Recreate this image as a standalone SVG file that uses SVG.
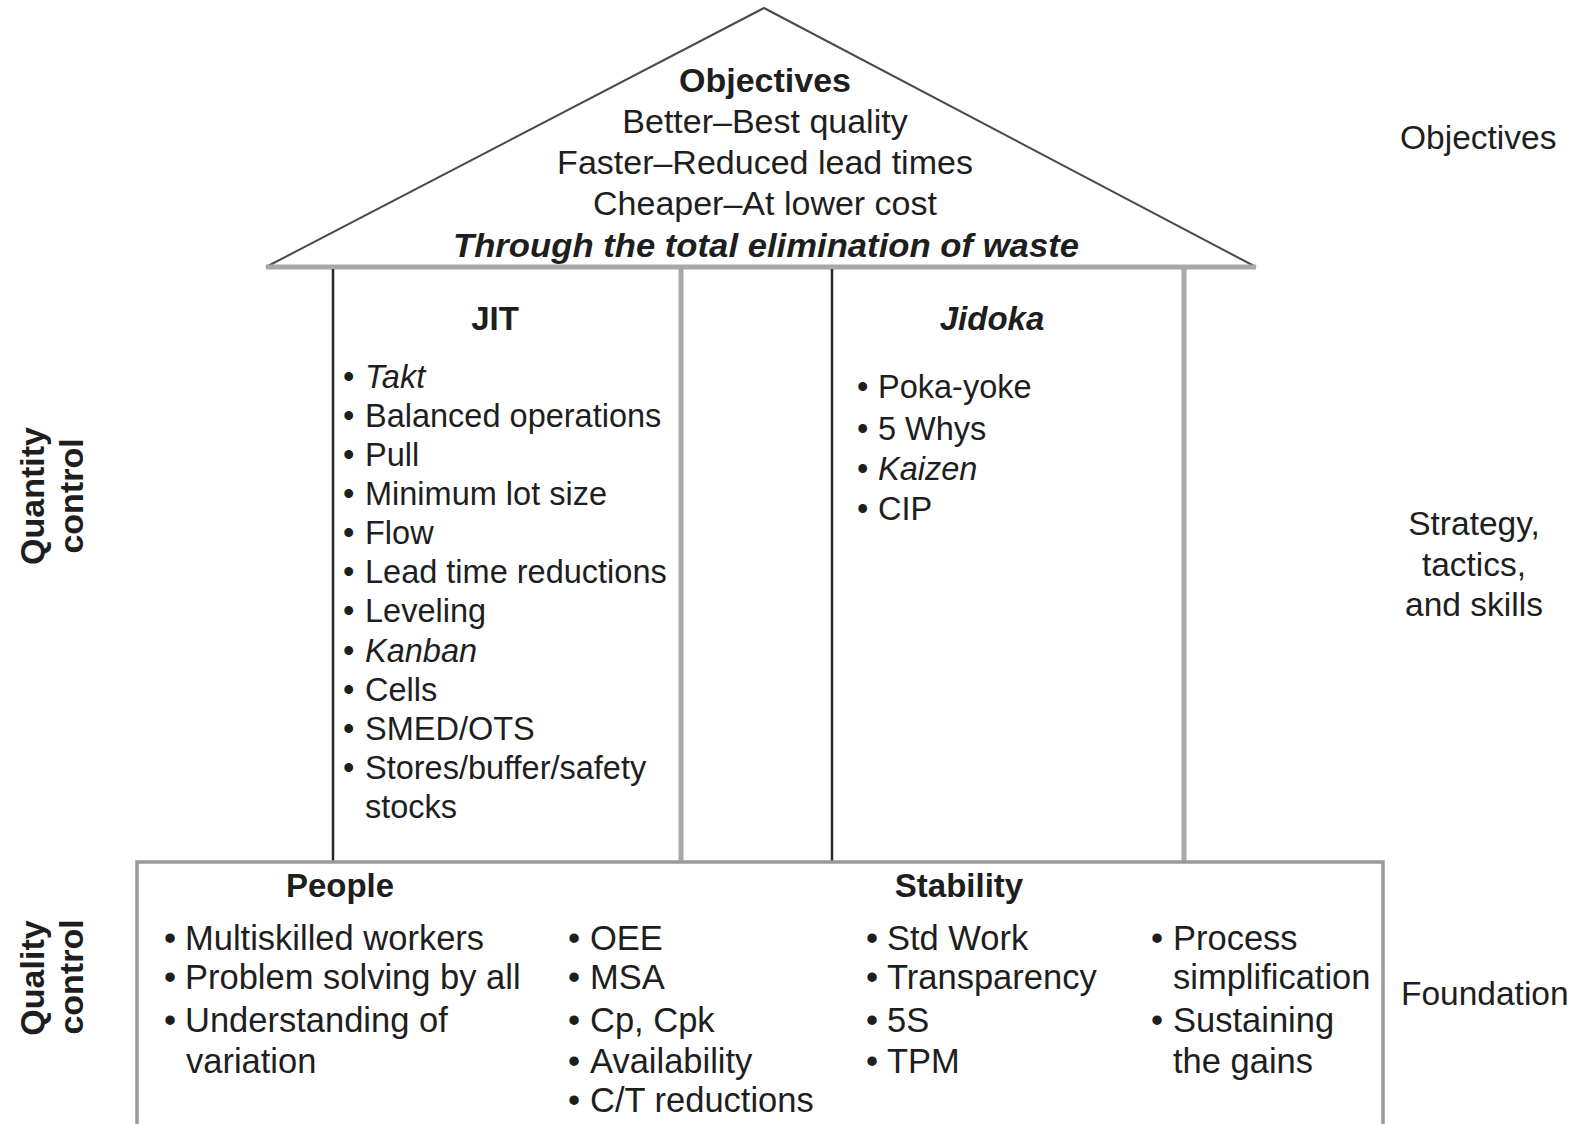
<svg xmlns="http://www.w3.org/2000/svg" width="1578" height="1124" viewBox="0 0 1578 1124">
  <style>
    text { font-family: "Liberation Sans", Arial, sans-serif; fill: #1e1e1e; }
    .roof { font-size: 34px; text-anchor: middle; }
    .head { font-size: 33px; font-weight: bold; text-anchor: middle; }
    .item { font-size: 32.5px; }
    .base { font-size: 34.5px; }
    .side { font-size: 33.5px; }
    .vert { font-size: 34px; font-weight: bold; text-anchor: middle; }
    .it { font-style: italic; }
    .line-dark { stroke: #2a2a2a; stroke-width: 2.5; fill: none; }
    .line-grey { stroke: #a8a8a8; stroke-width: 5; fill: none; }
    .roof-edge { stroke: #4a4a4a; stroke-width: 2; fill: none; }
  </style>

  <rect width="1578" height="1124" fill="#ffffff"/>

  <!-- house outline: roof, pillars and foundation frame -->
  <g id="connectors">
    <polyline class="roof-edge" points="266,267 764,8 1256,267"/>
    <line class="line-grey" x1="266" y1="267" x2="1256" y2="267"/>
    <line class="line-dark" x1="333" y1="269" x2="333" y2="862"/>
    <line class="line-grey" x1="681" y1="269" x2="681" y2="862"/>
    <line class="line-dark" x1="832" y1="269" x2="832" y2="862"/>
    <line class="line-grey" x1="1184" y1="269" x2="1184" y2="862"/>
    <polyline fill="none" stroke="#9a9a9a" stroke-width="3.5" points="137,1124 137,862 1383,862 1383,1124"/>
  </g>

  <!-- roof: objectives -->
  <g id="objectives">
    <text class="roof" x="765" y="92" font-weight="bold">Objectives</text>
    <text class="roof" x="765" y="133">Better–Best quality</text>
    <text class="roof" x="765" y="174">Faster–Reduced lead times</text>
    <text class="roof" x="765" y="215">Cheaper–At lower cost</text>
    <text class="roof" x="766" y="257" font-weight="bold" font-style="italic" textLength="626" lengthAdjust="spacingAndGlyphs">Through the total elimination of waste</text>
  </g>

  <!-- left pillar: JIT -->
  <g id="jit">
    <text class="head" x="495" y="330">JIT</text>
    <g class="item">
      <text class="item" y="388"><tspan x="343">•</tspan><tspan x="365" class="it">Takt</tspan></text>
      <text class="item" y="427"><tspan x="343">•</tspan><tspan x="365">Balanced operations</tspan></text>
      <text class="item" y="466"><tspan x="343">•</tspan><tspan x="365">Pull</tspan></text>
      <text class="item" y="505"><tspan x="343">•</tspan><tspan x="365">Minimum lot size</tspan></text>
      <text class="item" y="544"><tspan x="343">•</tspan><tspan x="365">Flow</tspan></text>
      <text class="item" y="583"><tspan x="343">•</tspan><tspan x="365">Lead time reductions</tspan></text>
      <text class="item" y="622"><tspan x="343">•</tspan><tspan x="365">Leveling</tspan></text>
      <text class="item" y="662"><tspan x="343">•</tspan><tspan x="365" class="it">Kanban</tspan></text>
      <text class="item" y="701"><tspan x="343">•</tspan><tspan x="365">Cells</tspan></text>
      <text class="item" y="740"><tspan x="343">•</tspan><tspan x="365">SMED/OTS</tspan></text>
      <text class="item" y="779"><tspan x="343">•</tspan><tspan x="365">Stores/buffer/safety</tspan></text>
      <text class="item" x="365" y="818">stocks</text>
    </g>
  </g>

  <!-- right pillar: Jidoka -->
  <g id="jidoka">
    <text class="head it" x="992" y="330">Jidoka</text>
    <text class="item" y="398" font-size="34"><tspan x="857">•</tspan><tspan x="878">Poka-yoke</tspan></text>
    <text class="item" y="440" font-size="34"><tspan x="857">•</tspan><tspan x="878">5 Whys</tspan></text>
    <text class="item" y="480" font-size="34"><tspan x="857">•</tspan><tspan x="878" class="it">Kaizen</tspan></text>
    <text class="item" y="520" font-size="34"><tspan x="857">•</tspan><tspan x="878">CIP</tspan></text>
  </g>

  <!-- foundation: people and stability -->
  <g id="foundation">
    <text class="head" x="340" y="897">People</text>
    <text class="head" x="959" y="897">Stability</text>

    <text class="base" y="950"><tspan x="164">•</tspan><tspan x="185">Multiskilled workers</tspan></text>
    <text class="base" y="989"><tspan x="164">•</tspan><tspan x="185">Problem solving by all</tspan></text>
    <text class="base" y="1032"><tspan x="164">•</tspan><tspan x="185">Understanding of</tspan></text>
    <text class="base" x="186" y="1073">variation</text>

    <text class="base" y="950"><tspan x="568">•</tspan><tspan x="590">OEE</tspan></text>
    <text class="base" y="989"><tspan x="568">•</tspan><tspan x="590">MSA</tspan></text>
    <text class="base" y="1032"><tspan x="568">•</tspan><tspan x="590">Cp, Cpk</tspan></text>
    <text class="base" y="1073"><tspan x="568">•</tspan><tspan x="590">Availability</tspan></text>
    <text class="base" y="1112"><tspan x="568">•</tspan><tspan x="590">C/T reductions</tspan></text>

    <text class="base" y="950"><tspan x="866">•</tspan><tspan x="887">Std Work</tspan></text>
    <text class="base" y="989"><tspan x="866">•</tspan><tspan x="887">Transparency</tspan></text>
    <text class="base" y="1032"><tspan x="866">•</tspan><tspan x="887">5S</tspan></text>
    <text class="base" y="1073"><tspan x="866">•</tspan><tspan x="887">TPM</tspan></text>

    <text class="base" y="950"><tspan x="1151">•</tspan><tspan x="1173">Process</tspan></text>
    <text class="base" x="1173" y="989">simplification</text>
    <text class="base" y="1032"><tspan x="1151">•</tspan><tspan x="1173">Sustaining</tspan></text>
    <text class="base" x="1173" y="1073">the gains</text>
  </g>

  <!-- level labels on the right -->
  <g id="levels">
    <text class="side" x="1400" y="149">Objectives</text>
    <text class="side" x="1474" y="535" text-anchor="middle">Strategy,</text>
    <text class="side" x="1474" y="576" text-anchor="middle">tactics,</text>
    <text class="side" x="1474" y="616" text-anchor="middle">and skills</text>
    <text class="side" x="1401" y="1005">Foundation</text>
  </g>

  <!-- rotated labels on the left -->
  <g id="quality-labels">
    <text class="vert" transform="translate(44,496) rotate(-90)">Quantity</text>
    <text class="vert" transform="translate(83,496) rotate(-90)">control</text>
    <text class="vert" transform="translate(44,978) rotate(-90)">Quality</text>
    <text class="vert" transform="translate(83,977) rotate(-90)">control</text>
  </g>
</svg>
